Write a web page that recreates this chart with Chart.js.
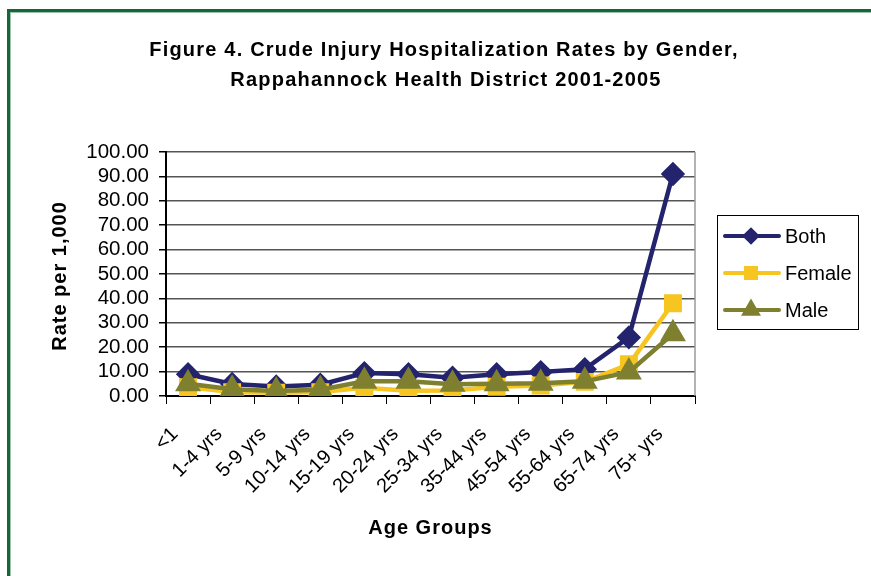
<!DOCTYPE html>
<html>
<head>
<meta charset="utf-8">
<script src="https://cdn.jsdelivr.net/npm/chart.js@4"></script>
<style>
html,body{margin:0;padding:0;background:#fff;}
#wrap{position:relative;width:871px;height:576px;}
</style>
</head>
<body>
<div id="wrap"><canvas id="c" width="871" height="576"></canvas></div>
<script>
const categories = ['<1','1-4 yrs','5-9 yrs','10-14 yrs','15-19 yrs','20-24 yrs','25-34 yrs','35-44 yrs','45-54 yrs','55-64 yrs','65-74 yrs','75+ yrs'];
const bothRates   = [8.9, 4.9, 3.9, 4.6, 9.4, 8.9, 7.5, 8.9, 9.8, 11.0, 24.0, 91.0];
const femaleRates = [3.6, 1.6, 1.3, 1.6, 3.4, 2.2, 2.3, 3.8, 4.3, 5.8, 13.0, 38.0];
const maleRates   = [5.0, 2.8, 2.0, 2.6, 6.0, 6.0, 4.8, 5.0, 5.2, 6.0, 9.8, 25.5];
const seriesNames = ['Both','Female','Male'];
const titleLines = ['Figure 4. Crude Injury Hospitalization Rates by Gender,','Rappahannock Health District 2001-2005'];
const xTitle = 'Age Groups';
const yTitle = 'Rate per 1,000';

const colors = ['#23236e','#f7c520','#7f7f30'];
const styles = ['rectRot','rect','triangle'];
const radii = [9,9.5,10.5];
const legendRadii = [6,7,7.5];
const FONT = 'Arial, "Liberation Sans", sans-serif';

const decor = {
  id:'decor',
  beforeDraw(chart){
    const ctx = chart.ctx;
    ctx.save();
    ctx.fillStyle = '#fff';
    ctx.fillRect(0,0,chart.width,chart.height);
    // green frame
    ctx.strokeStyle = '#17653a';
    ctx.lineWidth = 3;
    ctx.strokeRect(8.5,10.5,900,700);
    ctx.strokeStyle = '#9cc3a8';
    ctx.lineWidth = 1;
    ctx.strokeRect(10.5,12.5,900,700);
    // title
    ctx.fillStyle = '#000';
    ctx.font = 'bold 20px ' + FONT;
    ctx.letterSpacing = '1.2px';
    ctx.textAlign = 'center';
    ctx.textBaseline = 'middle';
    ctx.fillText(titleLines[0], 444, 50);
    ctx.fillText(titleLines[1], 446, 80);
    ctx.restore();
  },
  afterDatasetsDraw(chart){
    const ctx = chart.ctx;
    const a = chart.chartArea;
    ctx.save();
    ctx.strokeStyle = '#9a9a9a';
    ctx.lineWidth = 1.5;
    ctx.beginPath();
    ctx.moveTo(a.right, a.top);
    ctx.lineTo(a.right, a.bottom);
    ctx.stroke();
    ctx.restore();
  },
  afterDraw(chart){
    const ctx = chart.ctx;
    const a = chart.chartArea;
    const xs = chart.scales.x;
    ctx.save();
    // x tick labels (rotated)
    ctx.fillStyle = '#000';
    ctx.font = '20px ' + FONT;
    ctx.textAlign = 'right';
    ctx.textBaseline = 'middle';
    categories.forEach((lab,i)=>{
      const px = xs.getPixelForValue(i);
      ctx.save();
      ctx.translate(px - 13, a.bottom + 35);
      ctx.rotate(-Math.PI/4);
      ctx.fillText(lab, 0, 0);
      ctx.restore();
    });
    // axis titles
    ctx.font = 'bold 20px ' + FONT;
    ctx.letterSpacing = '1px';
    ctx.textAlign = 'center';
    ctx.fillText(xTitle, (a.left + a.right)/2, 528);
    ctx.save();
    ctx.translate(60, (a.top + a.bottom)/2 + 2);
    ctx.rotate(-Math.PI/2);
    ctx.fillText(yTitle, 0, 0);
    ctx.restore();
    ctx.letterSpacing = '0px';
    // legend box
    ctx.strokeStyle = '#000';
    ctx.lineWidth = 1;
    ctx.strokeRect(717.5,215.5,141,114);
    ctx.font = '20px ' + FONT;
    ctx.textBaseline = 'middle';
    ctx.textAlign = 'left';
    const rows = [236,273,310];
    chart.data.datasets.forEach((ds,i)=>{
      const y = rows[i];
      ctx.strokeStyle = ds.borderColor;
      ctx.lineWidth = 4;
      ctx.lineCap = 'round';
      ctx.beginPath();
      ctx.moveTo(725,y);
      ctx.lineTo(779,y);
      ctx.stroke();
      ctx.fillStyle = ds.borderColor;
      ctx.strokeStyle = ds.borderColor;
      Chart.helpers.drawPoint(ctx,{pointStyle:ds.pointStyle,radius:legendRadii[i],rotation:0,borderWidth:1},751,y);
      ctx.fillStyle = '#000';
      ctx.fillText(ds.label, 785, y+1);
    });
    ctx.restore();
  }
};

const dataSeries = [bothRates, femaleRates, maleRates];
new Chart(document.getElementById('c'),{
  type:'line',
  data:{
    labels:categories,
    datasets:dataSeries.map((d,i)=>({
      label:seriesNames[i],
      data:d,
      borderColor:colors[i],
      backgroundColor:colors[i],
      pointBackgroundColor:colors[i],
      pointBorderColor:colors[i],
      pointStyle:styles[i],
      pointRadius:radii[i],
      pointHoverRadius:radii[i],
      borderWidth:4.5,
      tension:0,
      order:3-i
    }))
  },
  options:{
    responsive:false,
    animation:false,
    devicePixelRatio:1,
    layout:{padding:{left:48,right:176,top:152,bottom:37}},
    plugins:{legend:{display:false},title:{display:false},tooltip:{enabled:false}},
    scales:{
      x:{
        offset:true,
        grid:{display:true,drawOnChartArea:false,drawTicks:true,tickLength:8,color:'#000',offset:true},
        border:{display:true,color:'#000',width:2},
        ticks:{display:false},
        afterFit(s){ s.height = 576-396-37; }
      },
      y:{
        min:0,max:100,
        grid:{color:'#555',lineWidth:1.5,drawTicks:true,tickLength:7,tickColor:'#000'},
        border:{display:true,color:'#000',width:2},
        ticks:{stepSize:10,autoSkip:false,color:'#000',padding:10,font:{size:20.5,family:FONT},callback:v=>Number(v).toFixed(2)},
        afterFit(s){ s.width = 166-48; }
      }
    }
  },
  plugins:[decor]
});
</script>
</body>
</html>
